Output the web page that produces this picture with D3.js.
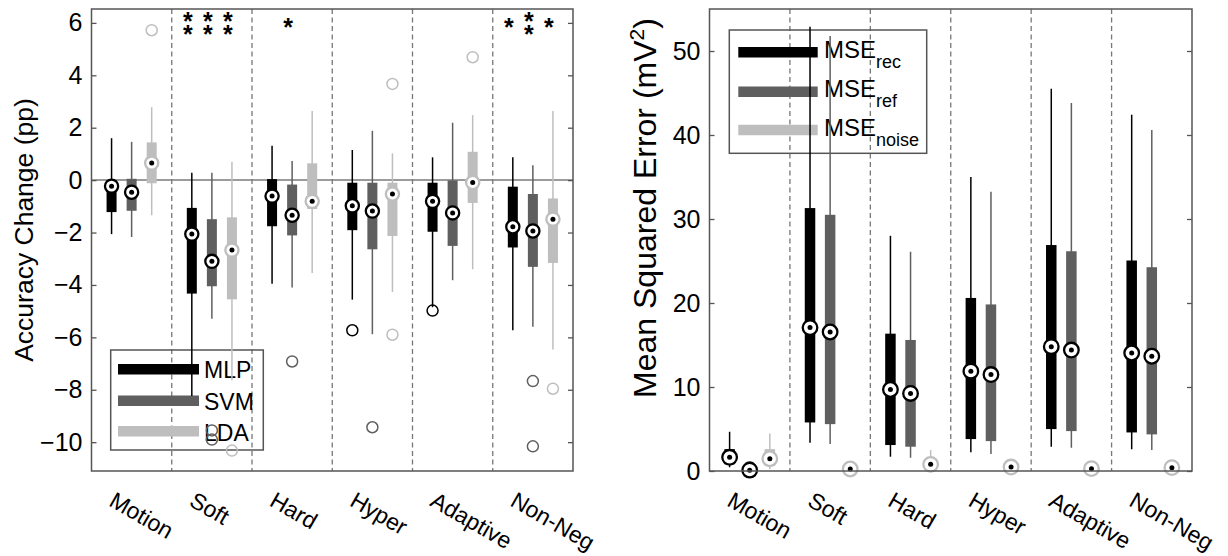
<!DOCTYPE html>
<html><head><meta charset="utf-8">
<script src="https://cdn.jsdelivr.net/npm/d3@7/dist/d3.min.js"></script>
<style>body{margin:0;background:#fff;} text{font-family:"Liberation Sans",Arial,Helvetica,sans-serif;fill:#000;}</style>
</head><body><svg id="c" width="1228" height="556"></svg>
<script>
// ---------- data ----------
const categories = ["Motion","Soft","Hard","Hyper","Adaptive","Non-Neg"];

// Left panel: accuracy change (pp)
const accSeries = ["MLP","SVM","LDA"];
const accTicks = [-10,-8,-6,-4,-2,0,2,4,6];
const mlpLow  = [-2.06,-8.24,-3.95,-4.56,-4.85,-5.73];
const mlpQ1   = [-1.22,-4.33,-1.76,-1.91,-1.97,-2.57];
const mlpMed  = [-0.23,-2.06,-0.61,-0.98,-0.81,-1.78];
const mlpQ3   = [ 0.00,-1.06, 0.04,-0.10,-0.10,-0.25];
const mlpHigh = [ 1.60, 0.28, 1.31, 1.15, 0.87, 0.87];
const mlpOut  = [[3,-5.73],[4,-4.98]];
const svmLow  = [-2.17,-5.29,-4.10,-5.88,-3.82,-5.60];
const svmQ1   = [-1.17,-4.05,-2.11,-2.64,-2.51,-3.31];
const svmMed  = [-0.46,-3.10,-1.34,-1.18,-1.25,-1.94];
const svmQ3   = [ 0.05,-1.49,-0.17,-0.10,-0.01,-0.53];
const svmHigh = [ 1.46, 0.28, 0.73, 1.88, 2.19, 0.57];
const svmOut  = [[1,-9.55],[1,-9.90],[2,-6.92],[3,-9.43],[5,-7.67],[5,-10.16]];
const ldaLow  = [-1.34,-7.64,-3.54,-4.27,-3.40,-6.46];
const ldaQ1   = [-0.12,-4.55,-1.10,-2.13,-0.87,-3.16];
const ldaMed  = [ 0.65,-2.67,-0.81,-0.53,-0.09,-1.49];
const ldaQ3   = [ 1.44,-1.42, 0.64,-0.10, 1.08,-0.70];
const ldaHigh = [ 2.78, 0.70, 2.64, 1.02, 2.48, 2.64];
const ldaOut  = [[0,5.72],[1,-10.32],[3,3.67],[3,-5.90],[4,4.69],[5,-7.96]];
const mlpStars = [0,2,0,0,0,1];
const svmStars = [0,2,1,0,0,2];
const ldaStars = [0,2,0,0,0,1];

// Right panel: mean squared error (mV^2)
const mseSeries = ["rec","ref","noise"];
const mseTicks = [0,10,20,30,40,50];
const recLow  = [0.44, 3.36, 1.70, 2.22, 2.89, 2.60];
const recQ1   = [0.80, 5.78, 3.09, 3.80, 4.99, 4.59];
const recMed  = [1.63,17.07, 9.70,11.88,14.80,14.05];
const recQ3   = [2.60,31.30,16.35,20.60,26.90,25.06];
const recHigh = [4.67,52.90,28.00,35.00,45.50,42.40];
const recOut  = [];
const refLow  = [0.02, 3.20, 1.58, 2.02, 2.77, 2.50];
const refQ1   = [0.05, 5.58, 2.89, 3.56, 4.75, 4.36];
const refMed  = [0.10,16.55, 9.23,11.48,14.40,13.66];
const refQ3   = [0.18,30.50,15.60,19.83,26.16,24.26];
const refHigh = [0.30,51.80,26.10,33.25,43.80,40.60];
const refOut  = [[0,0.15],[0,0.3],[0,0.45]];
const noiseLow  = [0.20,0.10,0.30,0.20,0.10,0.15];
const noiseQ1   = [0.60,0.15,0.50,0.30,0.18,0.25];
const noiseMed  = [1.46,0.24,0.79,0.47,0.28,0.40];
const noiseQ3   = [2.60,0.35,1.20,0.65,0.40,0.55];
const noiseHigh = [4.47,0.50,2.50,1.00,0.60,0.80];
const noiseOut  = [];

// ---------- drawing ----------
const svg = d3.select("#c");
const BLACK="#000000", DARK="#5f5f5f", LIGHT="#bebebe", AXIS="#555555";

function drawPanel(o){
  const g = svg.append("g");
  const x = d3.scaleBand().domain(categories).range([o.x0,o.x1]).paddingInner(0).paddingOuter(0);
  const bw = x.bandwidth();
  const sub = d3.scalePoint().domain(o.series.map(s=>s.name)).range([-0.25*bw,0.25*bw]);
  const y = d3.scaleLinear().domain(o.yDomain).range([o.y1,o.y0]);

  // dashed separators
  g.selectAll("line.sep").data(categories.slice(1)).join("line")
    .attr("x1",d=>x(d)).attr("x2",d=>x(d)).attr("y1",o.y0).attr("y2",o.y1)
    .attr("stroke","#777").attr("stroke-width",1.3).attr("stroke-dasharray","5,3.5");
  if(o.zeroLine){
    g.append("line").attr("x1",o.x0).attr("x2",o.x1).attr("y1",y(0)).attr("y2",y(0))
      .attr("stroke","#7a7a7a").attr("stroke-width",1.5);
  }

  // legend (transparent)
  const L=o.legend;
  g.append("rect").attr("x",L.x).attr("y",L.y).attr("width",L.w).attr("height",L.h)
    .attr("fill","none").attr("stroke",AXIS).attr("stroke-width",1.5);
  o.series.forEach((s,i)=>{
    const ly=L.lineY[i];
    g.append("line").attr("x1",L.lx0).attr("x2",L.lx1).attr("y1",ly).attr("y2",ly)
      .attr("stroke",s.color).attr("stroke-width",10.5);
    const t=g.append("text").attr("x",L.tx).attr("y",L.textY[i]).attr("font-size",L.fs);
    if(L.sub){
      t.append("tspan").text(L.main);
      t.append("tspan").attr("dy",L.subDy).attr("font-size",L.subFs).text(s.name);
    } else t.text(s.name);
  });

  o.series.forEach(s=>{
    const cx = (i)=> x(categories[i]) + bw/2 + sub(s.name);
    const idx = d3.range(categories.length);
    // whiskers
    g.selectAll(null).data(idx).join("line")
      .attr("x1",cx).attr("x2",cx).attr("y1",i=>y(s.high[i])).attr("y2",i=>y(s.low[i]))
      .attr("stroke",s.whisker).attr("stroke-width",1.5);
    // boxes
    g.selectAll(null).data(idx).join("rect")
      .attr("x",i=>cx(i)-o.boxW/2).attr("width",o.boxW)
      .attr("y",i=>y(s.q3[i])).attr("height",i=>Math.max(0.5,y(s.q1[i])-y(s.q3[i])))
      .attr("fill",s.color);
    // outliers
    g.selectAll(null).data(s.out).join("circle")
      .attr("cx",d=>cx(d[0])).attr("cy",d=>y(d[1])).attr("r",o.outR)
      .attr("fill","none").attr("stroke",s.whisker).attr("stroke-width",1.5);
    // medians
    g.selectAll(null).data(idx).join("circle")
      .attr("cx",cx).attr("cy",i=>y(s.med[i])).attr("r",o.medR)
      .attr("fill","#fff").attr("stroke",s.ring).attr("stroke-width",2.3);
    g.selectAll(null).data(idx).join("circle")
      .attr("cx",cx).attr("cy",i=>y(s.med[i])).attr("r",2.5).attr("fill","#000");
    // significance stars (one text per group, stacked lines)
    if(s.stars){
      idx.forEach(i=>{
        const n=s.stars[i]; if(!n) return;
        const yc=y(o.starVal);
        const t=g.append("text").attr("text-anchor","middle")
          .attr("font-size",25).attr("font-weight","bold");
        const top = n===1? yc : yc-6.5;
        for(let k=0;k<n;k++){
          t.append("tspan").attr("x",cx(i)-4).attr("y",top+k*13+13.5).text("*");
        }
      });
    }
  });

  // frame
  g.append("rect").attr("x",o.x0).attr("y",o.y0).attr("width",o.x1-o.x0).attr("height",o.y1-o.y0)
    .attr("fill","none").attr("stroke",AXIS).attr("stroke-width",1.5);
  // y ticks (left & right, inward)
  const yAxisL = d3.axisLeft(y).tickValues(o.yTicks).tickSize(-5).tickPadding(9);
  const ga = g.append("g").attr("transform",`translate(${o.x0},0)`).call(yAxisL);
  ga.select(".domain").remove();
  ga.selectAll("line").attr("stroke",AXIS).attr("stroke-width",1.3);
  ga.selectAll("text").attr("font-size",o.tickFs).attr("font-family","Liberation Sans, Arial, sans-serif").attr("fill","#000");
  const yAxisR = d3.axisRight(y).tickValues(o.yTicks).tickSize(-5).tickFormat("");
  const gr = g.append("g").attr("transform",`translate(${o.x1},0)`).call(yAxisR);
  gr.select(".domain").remove();
  gr.selectAll("line").attr("stroke",AXIS).attr("stroke-width",1.3);

  // x labels (rotated)
  g.selectAll(null).data(categories).join("text")
    .attr("transform",d=>`translate(${x(d)+bw/2-24},505) rotate(30)`)
    .attr("font-size",23).text(d=>d);

  // y title
  const tt = g.append("text").attr("transform",`translate(${o.titleX},${o.titleY}) rotate(-90)`)
    .attr("text-anchor","middle").attr("font-size",o.titleFs);
  o.title(tt);
}

drawPanel({
  x0:91.5, x1:573, y0:9, y1:471, yDomain:[-11.1,6.53], yTicks:accTicks, zeroLine:true,
  boxW:10, medR:6.6, outR:5.5, tickFs:25, starVal:6,
  series:[
    {name:"MLP",color:BLACK,whisker:BLACK,ring:BLACK,low:mlpLow,q1:mlpQ1,med:mlpMed,q3:mlpQ3,high:mlpHigh,out:mlpOut,stars:mlpStars},
    {name:"SVM",color:DARK,whisker:DARK,ring:BLACK,low:svmLow,q1:svmQ1,med:svmMed,q3:svmQ3,high:svmHigh,out:svmOut,stars:svmStars},
    {name:"LDA",color:LIGHT,whisker:LIGHT,ring:LIGHT,low:ldaLow,q1:ldaQ1,med:ldaMed,q3:ldaQ3,high:ldaHigh,out:ldaOut,stars:ldaStars}
  ],
  legend:{x:110.7,y:350,w:152.6,h:100,lx0:118,lx1:199,lineY:[369.3,400.7,431.3],tx:204,textY:[378,410,441],fs:23},
  titleX:33, titleY:230, titleFs:26.5,
  title:t=>t.text("Accuracy Change (pp)")
});

drawPanel({
  x0:709.5, x1:1192, y0:9, y1:471, yDomain:[0,55], yTicks:mseTicks, zeroLine:false,
  boxW:10.5, medR:7.3, outR:5.5, tickFs:25, starVal:0,
  series:[
    {name:"rec",color:BLACK,whisker:BLACK,ring:BLACK,low:recLow,q1:recQ1,med:recMed,q3:recQ3,high:recHigh,out:recOut},
    {name:"ref",color:DARK,whisker:DARK,ring:BLACK,low:refLow,q1:refQ1,med:refMed,q3:refQ3,high:refHigh,out:refOut},
    {name:"noise",color:LIGHT,whisker:LIGHT,ring:LIGHT,low:noiseLow,q1:noiseQ1,med:noiseMed,q3:noiseQ3,high:noiseHigh,out:noiseOut}
  ],
  legend:{x:729.3,y:30,w:197.4,h:123.3,lx0:738.3,lx1:817.7,lineY:[52.3,91.7,130],tx:824,textY:[58,97,135.5],fs:24,
          sub:true,main:"MSE",subDy:10,subFs:18},
  titleX:656, titleY:208, titleFs:32,
  title:t=>{t.append("tspan").text("Mean Squared Error (mV");
            t.append("tspan").attr("dy",-12).attr("font-size",21).text("2");
            t.append("tspan").attr("dy",12).text(")");}
});
</script></body></html>
